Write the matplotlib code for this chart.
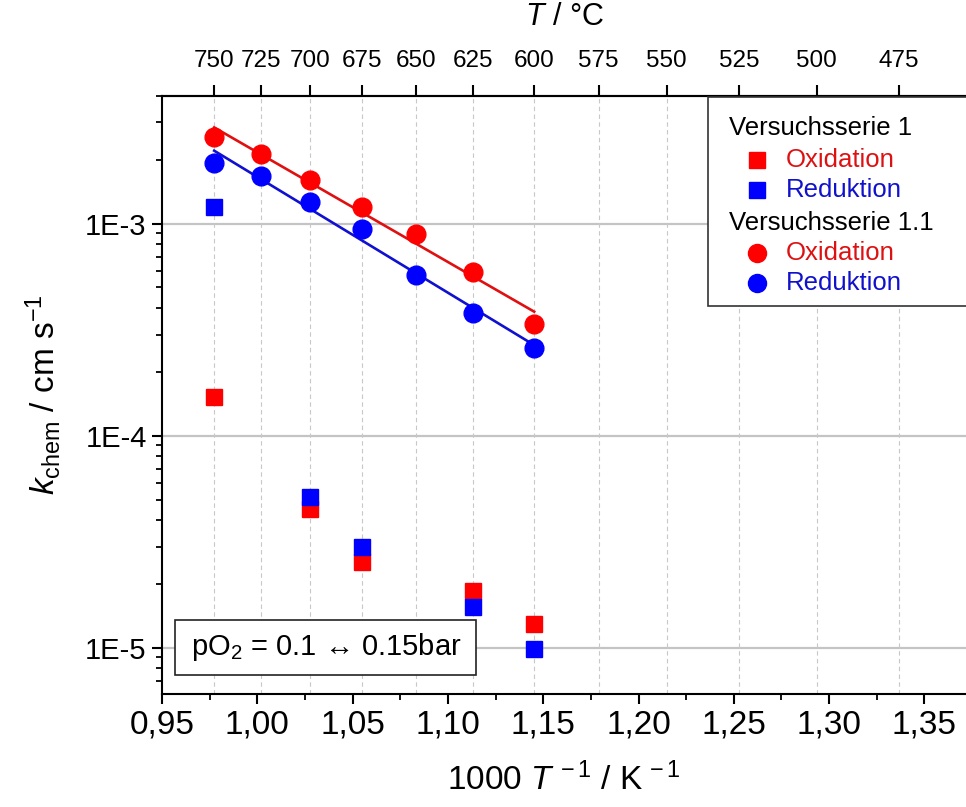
import numpy as np
import matplotlib
matplotlib.use("Agg")
import matplotlib.pyplot as plt
from matplotlib.lines import Line2D
from matplotlib.patches import Rectangle
from matplotlib import font_manager as fm

names = {f.name for f in fm.fontManager.ttflist}
NARROW = 'Liberation Sans Narrow' if 'Liberation Sans Narrow' in names else 'Liberation Sans'
SANS = 'Liberation Sans'

plt.rcParams['font.family'] = [SANS, 'DejaVu Sans']
plt.rcParams['mathtext.fontset'] = 'custom'
plt.rcParams['mathtext.rm'] = NARROW
plt.rcParams['mathtext.it'] = NARROW + ':italic'

# ---------------- data ----------------
temps_11 = [750, 725, 700, 675, 650, 625, 600]           # Versuchsserie 1.1, °C
ox_11 = [2.57e-3, 2.14e-3, 1.60e-3, 1.20e-3, 8.9e-4, 5.9e-4, 3.35e-4]
red_11 = [1.94e-3, 1.68e-3, 1.27e-3, 9.4e-4, 5.7e-4, 3.8e-4, 2.6e-4]

temps_1 = [750, 700, 675, 625, 600]                      # Versuchsserie 1, °C
ox_1 = [1.52e-4, 4.5e-5, 2.55e-5, 1.85e-5, 1.3e-5]
red_1 = [1.2e-3, 5.15e-5, 3.0e-5, 1.55e-5, 9.9e-6]

top_ticks_C = [750, 725, 700, 675, 650, 625, 600, 575, 550, 525, 500, 475]
x_ticks = [0.95, 1.00, 1.05, 1.10, 1.15, 1.20, 1.25, 1.30, 1.35]
y_ticks = [1e-5, 1e-4, 1e-3]
y_tick_labels = ['1E-5', '1E-4', '1E-3']

def inv(tc):
    return 1000.0 / (np.asarray(tc, dtype=float) + 273.15)

W, H = 966, 807
fig = plt.figure(figsize=(W / 100, H / 100), dpi=100)
L, R, T, B = 162, 966, 96, 694
ax = fig.add_axes([L / W, 1 - B / H, (R - L) / W, (B - T) / H])

RED = '#ff0000'
BLUE = '#0000ff'

ax.set_yscale('log')
ax.set_xlim(0.95, 0.95 + (R - L) / 1906.0)
ax.set_ylim(6.05e-6, 4.0e-3)

# grid
for yv in y_ticks:
    ax.axhline(yv, color='#c4c4c4', lw=1.6, zorder=0)
for t in top_ticks_C:
    ax.axvline(inv(t), color='#c8c8c8', lw=0.8, ls=(0, (4, 3)), zorder=0)

# fits
x11 = inv(temps_11)
for vals, col in [(ox_11, '#e01010'), (red_11, '#1010d0')]:
    p = np.polyfit(x11, np.log10(vals), 1)
    xs = np.array([x11.min(), x11.max()])
    ax.plot(xs, 10 ** np.polyval(p, xs), color=col, lw=1.9, zorder=2)

ax.plot(x11, ox_11, 'o', color=RED, ms=13.5, mec=RED, zorder=3)
ax.plot(x11, red_11, 'o', color=BLUE, ms=13.5, mec=BLUE, zorder=3)
x1 = inv(temps_1)
ax.plot(x1, ox_1, 's', color=RED, ms=12, mec=RED, zorder=3)
ax.plot(x1, red_1, 's', color=BLUE, ms=12, mec=BLUE, zorder=4)

# axes styling
for s in ['left', 'bottom', 'top']:
    ax.spines[s].set_linewidth(1.5)
ax.spines['right'].set_visible(False)

ax.set_xticks(x_ticks)
ax.set_xticklabels([f'{v:.2f}'.replace('.', ',') for v in x_ticks],
                   fontfamily=NARROW, fontsize=24)
ax.set_xticks(np.arange(0.975, 1.37, 0.05), minor=True)
ax.set_yticks(y_ticks)
ax.set_yticklabels(y_tick_labels, fontsize=21)
ax.tick_params(axis='both', which='major', direction='out', length=7, width=1.5, pad=4)
ax.tick_params(axis='both', which='minor', direction='out', length=4, width=1.3)
ax.tick_params(axis='x', which='both', top=False)

sec = ax.secondary_xaxis('top')
sec.set_xticks(inv(top_ticks_C))
sec.set_xticklabels([str(t) for t in top_ticks_C], fontfamily=NARROW, fontsize=17.5)
sec.tick_params(direction='out', length=8, width=1.5, pad=9)
sec.spines['top'].set_linewidth(1.5)
sec.set_xlabel(r'$\mathit{T}$ / °C', fontsize=22, fontfamily=NARROW, labelpad=18)

ax.set_xlabel(r'1000 $\mathit{T}^{\,-1}$ / K$^{\,-1}$', fontsize=24, fontfamily=NARROW, labelpad=16)
ax.set_ylabel(r'$\mathit{k}_{\mathrm{chem}}$ / cm s$^{-1}$', fontsize=24, fontfamily=NARROW, labelpad=16)

# legend (manual)
fx = lambda px: px / W
fy = lambda py: 1 - py / H
fig.add_artist(Rectangle((fx(708), fy(306)), fx(970) - fx(708), fy(97) - fy(306),
                         transform=fig.transFigure, fc='white', ec='#333333', lw=1.2, zorder=5))
lg_fs = 18.5
fig.text(fx(729), fy(128), 'Versuchsserie 1', fontsize=lg_fs, va='center', zorder=6)
fig.text(fx(729), fy(223), 'Versuchsserie 1.1', fontsize=lg_fs, va='center', zorder=6)
entries = [(160, 's', RED, '#dd1111', 'Oxidation'),
           (190, 's', BLUE, '#1111cc', 'Reduktion'),
           (253, 'o', RED, '#dd1111', 'Oxidation'),
           (283, 'o', BLUE, '#1111cc', 'Reduktion')]
for py, m, mc, tc, lab in entries:
    fig.add_artist(Line2D([fx(757)], [fy(py)], transform=fig.transFigure, marker=m,
                          ms=12 if m == 's' else 13, color=mc, mec=mc, ls='none', zorder=6))
    fig.text(fx(786), fy(py), lab, fontsize=lg_fs, color=tc, va='center', zorder=6)

# pO2 box
fig.add_artist(Rectangle((fx(175), fy(675)), fx(476) - fx(175), fy(620) - fy(675),
                         transform=fig.transFigure, fc='white', ec='#222222', lw=1.2, zorder=5))
fig.text(fx(326), fy(647), 'pO$_2$ = 0.1 ↔ 0.15bar', fontsize=21, ha='center', va='center',
         family=[SANS, 'DejaVu Sans'], zorder=6)

fig.savefig('out.png', dpi=100)
